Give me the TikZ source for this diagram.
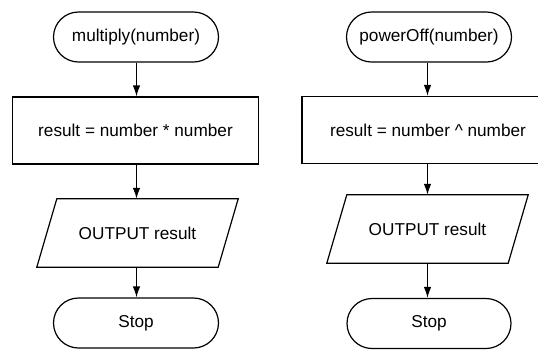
\documentclass[tikz,border=0pt]{standalone}
\usepackage{fontspec}
\setmainfont{Liberation Sans}
\usetikzlibrary{arrows.meta}
\begin{document}
\begin{tikzpicture}[x=1pt,y=-1pt,
  every node/.style={font=\fontsize{17.2}{20}\selectfont, inner sep=0pt},
  term/.style={draw, line width=1.2pt, rounded corners=25pt, minimum width=165pt, minimum height=50pt},
  procbox/.style={draw, line width=1.2pt, minimum height=67pt},
  iobox/.style={minimum width=181pt, minimum height=68pt},
  ioshape/.style={line width=1.2pt},
  flow/.style={line width=1.2pt, -{Latex[length=11pt,width=7.5pt]}}
]
\useasboundingbox (0,0) rectangle (538,349);
\clip (0,0) rectangle (538,349);
% left column
\coordinate (c1) at (136.5,0);
\node[term] (t1) at (136,37) {multiply(number)};
\node[procbox, minimum width=246pt] (r1) at (135.5,130.5) {result = number * number};
\node[iobox] (p1) at (137.5,233) {OUTPUT result};
\draw[ioshape] ([xshift=10pt]p1.north west) -- ([xshift=10pt]p1.north east)
  -- ([xshift=-10pt]p1.south east) -- ([xshift=-10pt]p1.south west) -- cycle;
\node[term] (s1) at (136,323) {Stop};
\draw[flow] (t1.south -| c1) -- (r1.north -| c1);
\draw[flow] (r1.south -| c1) -- (p1.north -| c1);
\draw[flow] (p1.south -| c1) -- (s1.north -| c1);
% right column
\coordinate (c2) at (427.5,0);
\node[term] (t2) at (429,37) {powerOff(number)};
\node[procbox, minimum width=252pt] (r2) at (428,130) {result = number \^{} number};
\node[iobox] (p2) at (427.5,229) {OUTPUT result};
\draw[ioshape] ([xshift=10pt]p2.north west) -- ([xshift=10pt]p2.north east)
  -- ([xshift=-10pt]p2.south east) -- ([xshift=-10pt]p2.south west) -- cycle;
\node[term, minimum width=164pt] (s2) at (429,323.5) {Stop};
\draw[flow] (t2.south -| c2) -- (r2.north -| c2);
\draw[flow] (r2.south -| c2) -- (p2.north -| c2);
\draw[flow] (p2.south -| c2) -- (s2.north -| c2);
\end{tikzpicture}
\end{document}
